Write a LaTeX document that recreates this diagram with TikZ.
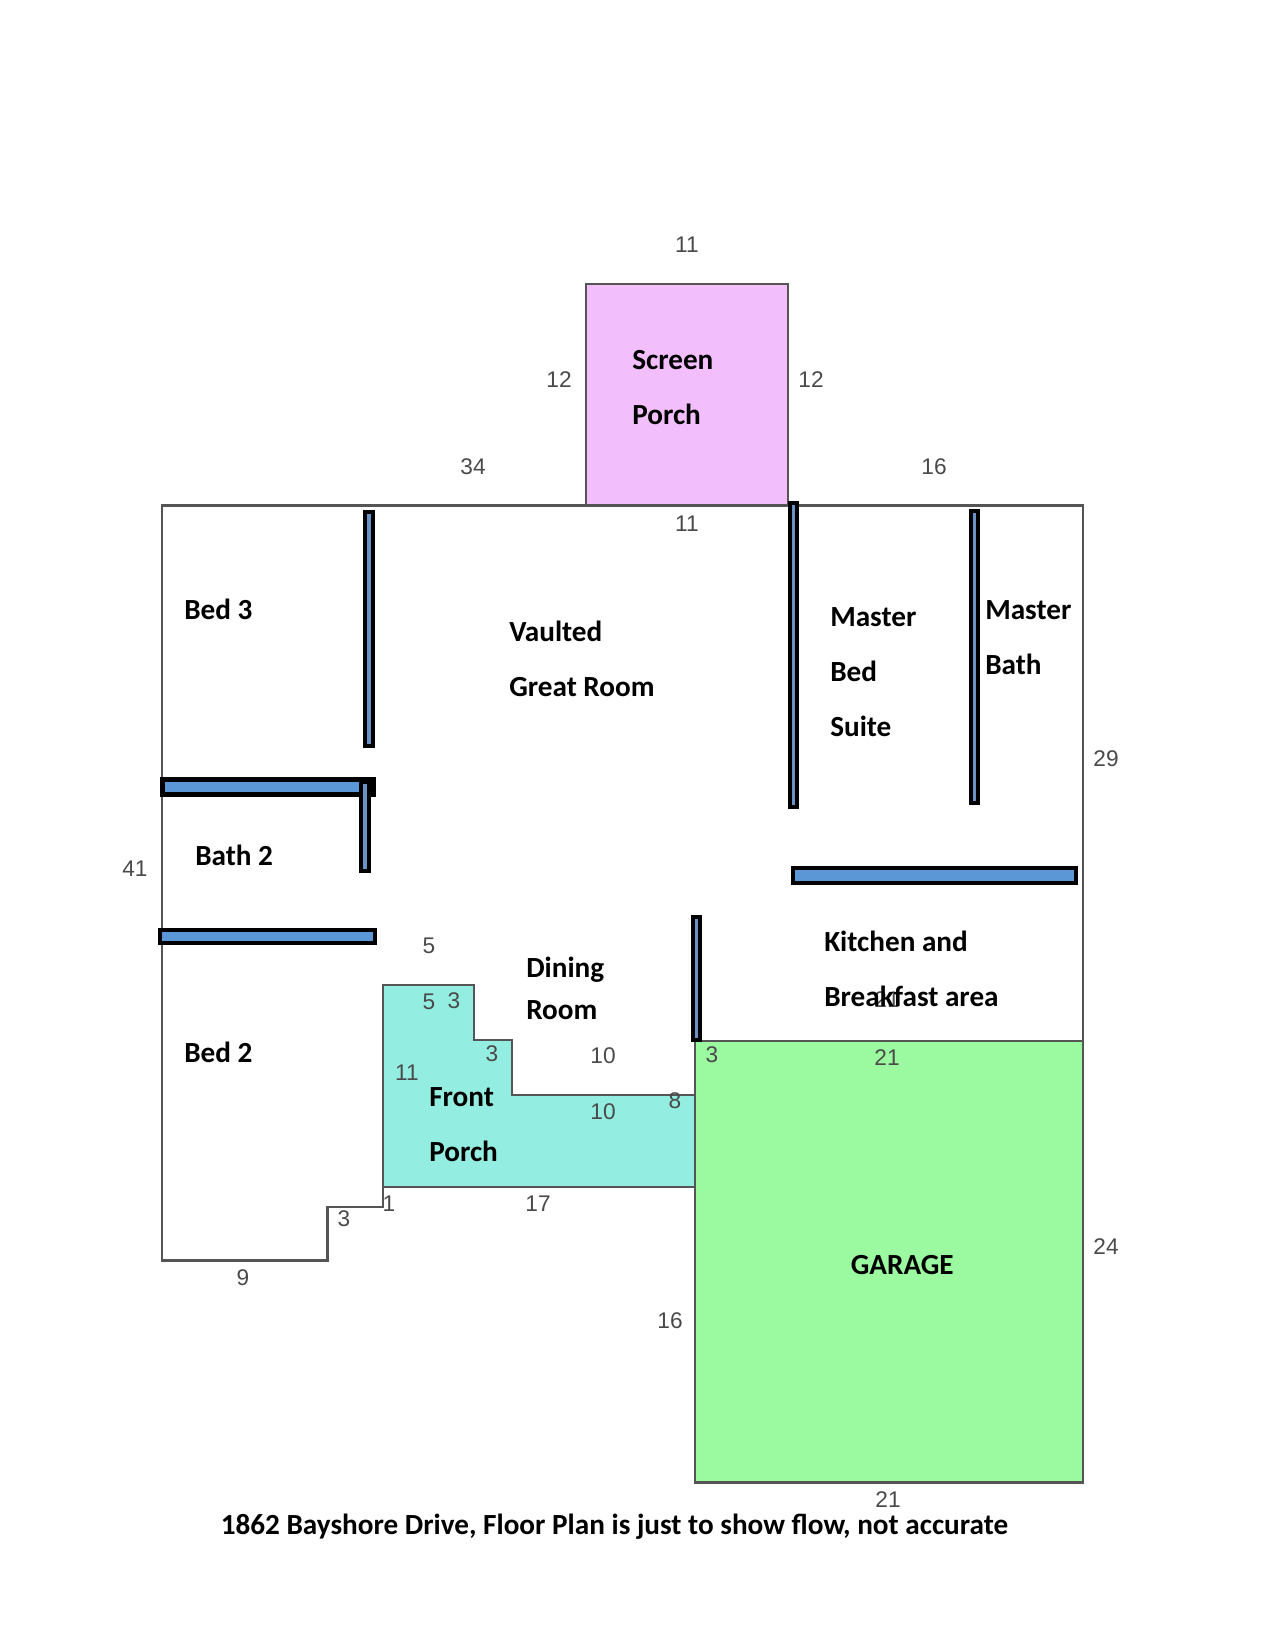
\documentclass[tikz,border=0pt]{standalone}
\usepackage{fontspec}
\setmainfont{Carlito}
\newfontfamily\dimfont{Liberation Sans}
\definecolor{pinkfill}{HTML}{F2BFFC}
\definecolor{tealfill}{HTML}{93EDE0}
\definecolor{greenfill}{HTML}{9BFA9F}
\definecolor{wallblue}{HTML}{5B96D6}
\definecolor{wallblued}{HTML}{6A92C4}
\definecolor{planline}{HTML}{555555}
\definecolor{dimcol}{HTML}{4A4A4A}
\tikzset{
  plan/.style={draw=planline,line width=1.6pt,line join=miter},
  wallh/.style={draw=black,line width=3pt,fill=wallblue},
  wallv/.style={draw=black,line width=3pt,fill=wallblued},
  room/.style={anchor=base west,inner sep=0pt,font=\fontsize{21.9}{26}\selectfont\bfseries,text=black},
  dimlab/.style={anchor=center,inner sep=0pt,font=\dimfont\fontsize{17}{20}\selectfont,text=dimcol},
}
\begin{document}
\begin{tikzpicture}[x=0.75pt,y=-0.75pt]
\useasboundingbox (0,0) rectangle (1275,1650);
\fill[white] (0,0) rectangle (1275,1650);
% fills and outlines
\draw[plan,fill=pinkfill] (586,284) rectangle (788,505.5);
\draw[plan,fill=tealfill] (383,985) -- (474,985) -- (474,1040) -- (512,1040) -- (512,1095) -- (695,1095) -- (695,1187) -- (383,1187) -- cycle;
\draw[plan,fill=greenfill] (695,1041) rectangle (1083,1482.5);
\draw[plan] (383,1187) -- (383,1207) -- (327.5,1207) -- (327.5,1260.5) -- (162,1260.5) -- (162,505.5) -- (586,505.5);
\draw[plan] (788,505.5) -- (1083,505.5) -- (1083,1041);
% dimension labels
\node[dimlab] (d1) at (687,245) {11};
\node[dimlab] (d2) at (559,380) {12};
\node[dimlab] (d3) at (811,380) {12};
\node[dimlab] (d4) at (473,466.5) {34};
\node[dimlab] (d5) at (934,466.5) {16};
\node[dimlab] (d6) at (687,523.5) {11};
\node[dimlab] (d7) at (1106,759) {29};
\node[dimlab] (d8) at (135,869) {41};
\node[dimlab] (d9) at (429,946) {5};
\node[dimlab] (d10) at (429,1002) {5};
\node[dimlab] (d11) at (454,1001) {3};
\node[dimlab] (d12) at (492,1054) {3};
\node[dimlab] (d13) at (603,1056) {10};
\node[dimlab] (d14) at (603,1112) {10};
\node[dimlab] (d15) at (675,1101) {8};
\node[dimlab] (d16) at (712,1055) {3};
\node[dimlab] (d17) at (887,1058) {21};
\node[dimlab] (d18) at (887,1000) {21};
\node[dimlab] (d19) at (407,1073) {11};
\node[dimlab] (d20) at (389,1204) {1};
\node[dimlab] (d21) at (538,1204) {17};
\node[dimlab] (d22) at (344,1219) {3};
\node[dimlab] (d23) at (243,1278) {9};
\node[dimlab] (d24) at (670,1321) {16};
\node[dimlab] (d25) at (1106,1247) {24};
\node[dimlab] (d26) at (888,1500) {21};
% interior walls
\draw[wallv] (365,512) rectangle (373,746);
\draw[wallh,line width=3.75pt] (162.5,779.5) rectangle (373,794.5);
\draw[wallv] (361.3,782) rectangle (369,871);
\draw[wallh] (159.5,929.5) rectangle (374.5,943);
\draw[wallv] (693,917) rectangle (700.3,1040);
\draw[wallv] (789.5,503) rectangle (797,807);
\draw[wallv] (971,511) rectangle (978,803);
\draw[wallh] (793,868) rectangle (1076,883);
% room labels
\node[room] (screen) at (632,369) {Screen};
\node[room] (porchb) at (632,424) {Porch};
\node[room] (bed3) at (184,619) {Bed 3};
\node[room] (vaulted) at (509,641) {Vaulted};
\node[room] (great) at (509,696) {Great Room};
\node[room] (masterb) at (830,626) {Master};
\node[room] (bedb) at (830,681) {Bed};
\node[room] (suite) at (830,736) {Suite};
\node[room] (masterc) at (985,619) {Master};
\node[room] (bathc) at (985,674) {Bath};
\node[room] (bath2) at (195,865) {Bath 2};
\node[room] (dining) at (526,977) {Dining};
\node[room] (diningb) at (526,1019) {Room};
\node[room] (kitchen) at (824,951) {Kitchen and};
\node[room] (breakfast) at (824,1006) {Breakfast area};
\node[room] (bed2) at (184,1062) {Bed 2};
\node[room] (front) at (429,1106) {Front};
\node[room] (porchf) at (429,1161) {Porch};
\node[room] (garage) at (850.5,1274) {GARAGE};
\node[room] (title) at (220.5,1534.5) {1862 Bayshore Drive, Floor Plan is just to show flow, not accurate};
\end{tikzpicture}
\end{document}
